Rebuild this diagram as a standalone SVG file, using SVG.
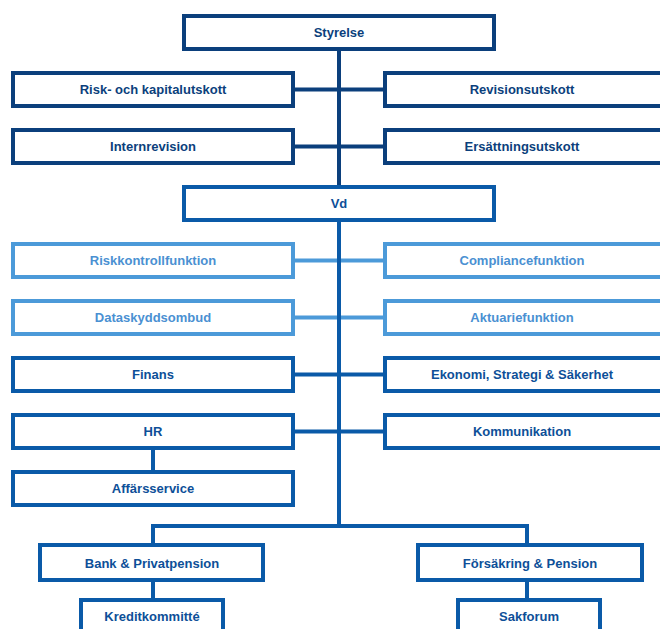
<svg xmlns="http://www.w3.org/2000/svg" width="660" height="629" viewBox="0 0 660 629">
<style>
rect{fill:#fff;stroke-width:4}
.d rect{stroke:#0b3f7c}
.m rect{stroke:#0a5aa8}
.l rect{stroke:#4c9ad9}
text{font-family:"Liberation Sans",Arial,sans-serif;font-weight:bold;font-size:13px;text-anchor:middle}
.d text{fill:#0b3f7c}
.m text{fill:#0d4f98}
.l text{fill:#4a90d2}
.cd{stroke:#0b3f7c;stroke-width:4;fill:none}
.cm{stroke:#0a5aa8;stroke-width:4;fill:none}
.cl{stroke:#4c9ad9;stroke-width:4;fill:none}
</style>
<rect width="660" height="629" style="fill:#fff;stroke:none"/>
<g id="connectors">
<path class="cd" d="M339 50V185M295 89.5H383M295 146.5H383"/>
<path class="cm" d="M339 221V526M153 544V526H527V544M295 374.5H383M295 431.5H383M153 450V470M153 581V599M527 581V599"/>
<path class="cl" d="M295 260.5H337M341 260.5H383M295 317.5H337M341 317.5H383"/>
</g>
<g id="styrelse" class="d"><rect x="184" y="16" width="310" height="33"/><text x="339" y="37">Styrelse</text></g>
<g id="risk" class="d"><rect x="13" y="73" width="280" height="33"/><text x="153" y="94">Risk- och kapitalutskott</text></g>
<g id="revision" class="d"><rect x="385" y="73" width="290" height="33"/><text x="522" y="94">Revisionsutskott</text></g>
<g id="internrevision" class="d"><rect x="13" y="130" width="280" height="33"/><text x="153" y="151">Internrevision</text></g>
<g id="ersattning" class="d"><rect x="385" y="130" width="290" height="33"/><text x="522" y="151">Ersättningsutskott</text></g>
<g id="vd" class="m"><rect x="184" y="187" width="310" height="33"/><text x="339" y="208">Vd</text></g>
<g id="riskkontroll" class="l"><rect x="13" y="244" width="280" height="33"/><text x="153" y="265">Riskkontrollfunktion</text></g>
<g id="compliance" class="l"><rect x="385" y="244" width="290" height="33"/><text x="522" y="265">Compliancefunktion</text></g>
<g id="dataskydd" class="l"><rect x="13" y="301" width="280" height="33"/><text x="153" y="322">Dataskyddsombud</text></g>
<g id="aktuarie" class="l"><rect x="385" y="301" width="290" height="33"/><text x="522" y="322">Aktuariefunktion</text></g>
<g id="finans" class="m"><rect x="13" y="358" width="280" height="33"/><text x="153" y="379">Finans</text></g>
<g id="ekonomi" class="m"><rect x="385" y="358" width="290" height="33"/><text x="522" y="379">Ekonomi, Strategi &amp; Säkerhet</text></g>
<g id="hr" class="m"><rect x="13" y="415" width="280" height="33"/><text x="153" y="436">HR</text></g>
<g id="kommunikation" class="m"><rect x="385" y="415" width="290" height="33"/><text x="522" y="436">Kommunikation</text></g>
<g id="affarsservice" class="m"><rect x="13" y="472" width="280" height="33"/><text x="153" y="493">Affärsservice</text></g>
<g id="bank" class="m"><rect x="40" y="545" width="223" height="35"/><text x="152" y="568">Bank &amp; Privatpension</text></g>
<g id="forsakring" class="m"><rect x="418" y="545" width="224" height="35"/><text x="530" y="568">Försäkring &amp; Pension</text></g>
<g id="kredit" class="m"><rect x="81" y="600" width="142" height="40"/><text x="152" y="621">Kreditkommitté</text></g>
<g id="sakforum" class="m"><rect x="458" y="600" width="142" height="40"/><text x="529" y="621">Sakforum</text></g>
</svg>
